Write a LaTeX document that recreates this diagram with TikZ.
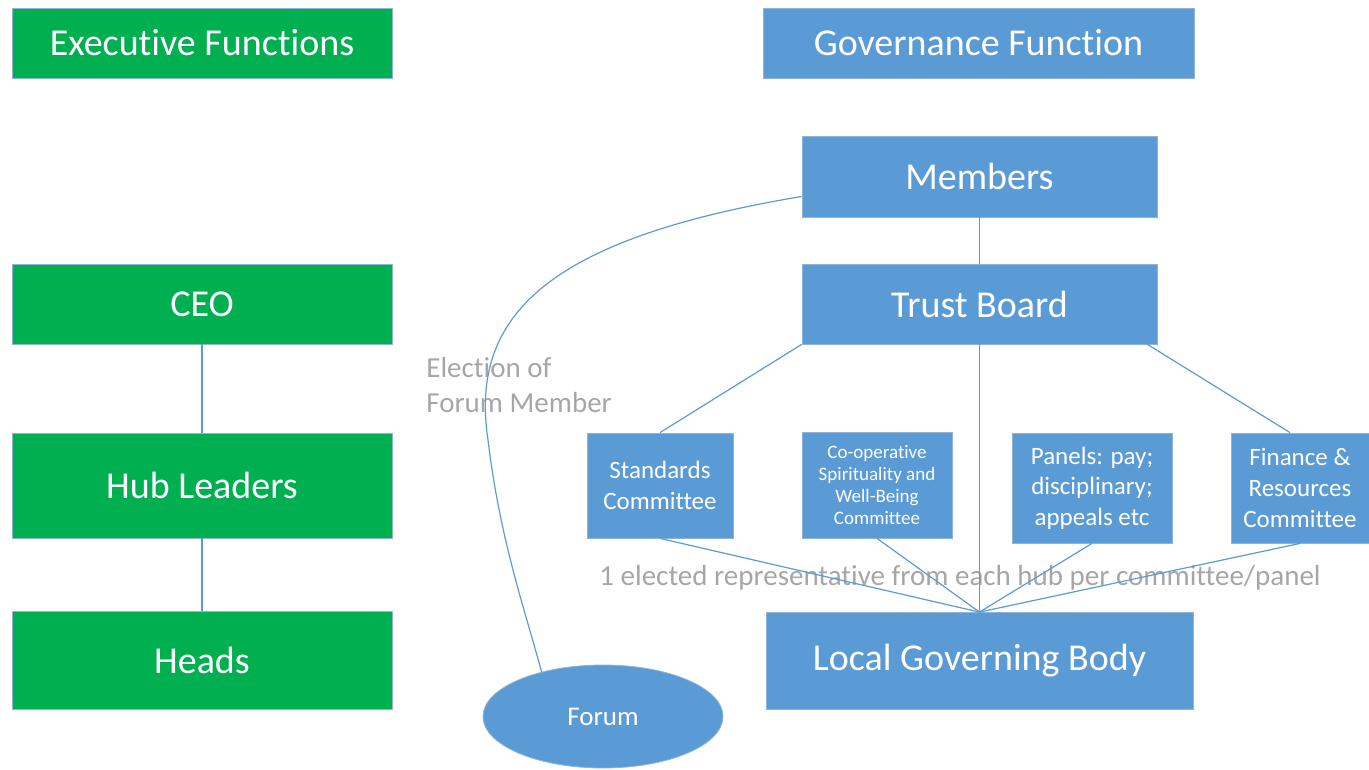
\documentclass[tikz,border=0pt]{standalone}
\usepackage{fontspec}
\setmainfont{Carlito}[Ligatures={NoCommon,NoContextual},Contextuals=NoAlternate]
\usetikzlibrary{shapes.geometric}
\definecolor{grn}{HTML}{00B050}
\definecolor{blu}{HTML}{5B9BD5}
\definecolor{lbl}{HTML}{A6A6A6}
\definecolor{edge}{HTML}{8FB3D9}
\begin{document}
\begin{tikzpicture}[x=0.5pt,y=-0.5pt,
  box/.style={rectangle, inner sep=0pt, text=white, align=center, draw=edge, line width=0.4pt},
  gbox/.style={box, fill=grn},
  bbox/.style={box, fill=blu},
  head/.style={font=\fontsize{19}{23}\selectfont},
  comm/.style={font=\fontsize{12.5}{15.3}\selectfont},
  small/.style={font=\fontsize{9.5}{11}\selectfont},
  link/.style={draw=blu, line width=0.6pt},
  note/.style={text=lbl, inner sep=0pt, font=\fontsize{14.5}{17.5}\selectfont}]
\useasboundingbox (0,0) rectangle (1369,770);
% executive side
\node[gbox, head, minimum width=190pt, minimum height=35pt] (exec) at (202,43) {Executive Functions};
\node[gbox, head, minimum width=190pt, minimum height=40pt] (ceo) at (202,304) {CEO};
\node[gbox, head, minimum width=190pt, minimum height=52.5pt] (hub) at (202,485.5) {Hub Leaders};
\node[gbox, head, minimum width=190pt, minimum height=49pt] (heads) at (202,660) {Heads};
% governance side
\node[bbox, head, minimum width=215.5pt, minimum height=35pt] (gov) at (978.5,43) {Governance Function};
\node[bbox, head, minimum width=177.5pt, minimum height=40.5pt] (members) at (979.5,176.5) {Members};
\node[bbox, head, minimum width=177.5pt, minimum height=40pt] (trust) at (979.5,304) {Trust Board};
\node[bbox, comm, minimum width=73pt, minimum height=52.5pt] (std) at (660,485.5) {Standards\\Committee};
\node[bbox, small, minimum width=75pt, minimum height=53pt] (coop) at (877,485) {Co-operative\\Spirituality and\\Well-Being\\Committee};
\node[bbox, comm, minimum width=80pt, minimum height=55pt] (panels) at (1092,488) {Panels: pay;\\disciplinary;\\appeals etc};
\node[bbox, comm, minimum width=69pt, minimum height=55pt] (fin) at (1300,488) {Finance \&\\Resources\\Committee};
\node[bbox, head, minimum width=213.5pt, minimum height=48.5pt] (lgb) at (979.5,661) {Local Governing Body};
\node[ellipse, fill=blu, draw=edge, line width=0.4pt, text=white, inner sep=0pt,
      minimum width=120pt, minimum height=51.5pt, font=\fontsize{13.5}{16}\selectfont] (forum) at (603,716.5) {Forum};
% labels
\node[note, anchor=north west, align=left] (elect) at (426,357) {Election of\\Forum Member};
\node[note] (rep) at (960,578) {1 elected representative from each hub per committee/panel};
% connectors
\draw[link] (ceo) -- (hub);
\draw[link] (hub) -- (heads);
\draw[link] (members) -- (trust);
\draw[link] (trust) -- (lgb.north);
\draw[link] (trust.south west) -- (std.north);
\draw[link] ([xshift=-5pt]trust.south east) -- ([xshift=-5pt]fin.north);
\draw[link] (std.south) -- (lgb.north);
\draw[link] (coop.south) -- (lgb.north);
\draw[link] (panels.south) -- (lgb.north);
\draw[link] (fin.south) -- (lgb.north);
\coordinate (bend) at (488,440);
\draw[link] ([yshift=-10pt]members.west) .. controls (540,240) and (470,320) .. (bend)
  .. controls (500,540) and (525,610) .. (forum.144);
\end{tikzpicture}
\end{document}
